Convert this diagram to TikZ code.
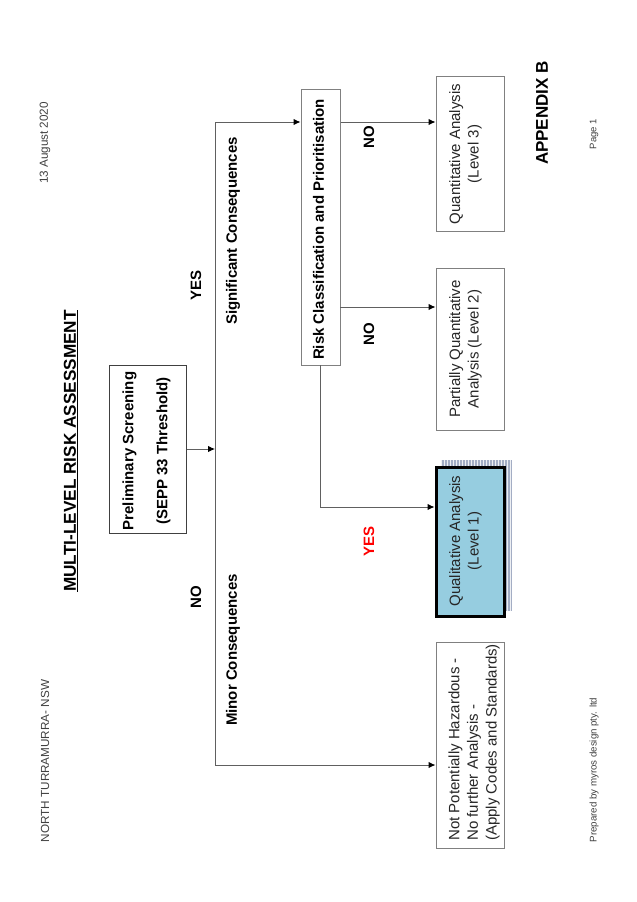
\documentclass[tikz,border=0pt]{standalone}
\usepackage{fontspec}
\setmainfont{Liberation Sans}
\usetikzlibrary{arrows.meta,positioning}
\definecolor{linegrey}{HTML}{606060}
\definecolor{boxgrey}{HTML}{808080}
\definecolor{levelblue}{HTML}{96CDE0}
\definecolor{hatchblue}{HTML}{A3ADC4}
\tikzset{
  flowbox/.style={draw=boxgrey,fill=white,line width=1pt,rotate=90,inner sep=0pt},
  boxtext/.style={rotate=90,align=center,inner sep=0pt,text=black!85,font=\fontsize{15}{18.7}\selectfont},
  flowline/.style={draw=linegrey,line width=1pt,-{Latex[black,length=7pt,width=6.5pt]}},
  plainline/.style={draw=linegrey,line width=1pt},
  headtext/.style={rotate=90,font=\fontsize{15}{18}\bfseries\selectfont},
  pagetext/.style={rotate=90,text=black!75,font=\fontsize{11.7}{14}\selectfont}
}

\begin{document}
\begin{tikzpicture}[x=1pt,y=-1pt,>=Latex]
    \useasboundingbox (0,0) rectangle (637,902);

    % page furniture
    \node[pagetext] (site) at (45,761) {NORTH TURRAMURRA- NSW};
    \node[pagetext] (date) at (45,143) {13 August 2020};
    \node[pagetext,font=\fontsize{9.7}{12}\selectfont] (prepared) at (594,770) {Prepared by myros design pty. ltd};
    \node[pagetext,font=\fontsize{9.5}{12}\selectfont] (pageno) at (594,134) {Page 1};
    \node[headtext,font=\fontsize{17.2}{20}\bfseries\selectfont] (title) at (71,451) {\underline{MULTI-LEVEL RISK ASSESSMENT}};
    \node[headtext,font=\fontsize{17}{20}\bfseries\selectfont] (appendix) at (542,113) {APPENDIX B};

    % boxes
    \fill[hatchblue] (441,460) rectangle (512,611);
    \draw[white!80!hatchblue,line width=0.2pt,xstep=3,ystep=3] (441,460) grid (512,611);
    \node[flowbox,draw=black!75,minimum width=168pt,minimum height=77pt] (prelim) at (147.5,449) {};
    \node[flowbox,minimum width=276pt,minimum height=39pt] (risk) at (320.5,227) {};
    \node[flowbox,minimum width=155pt,minimum height=68pt] (level3) at (470,153.5) {};
    \node[flowbox,minimum width=162pt,minimum height=68pt] (level2) at (470,349) {};
    \node[flowbox,draw=black,fill=levelblue,line width=3pt,minimum width=149pt,minimum height=68pt] (level1) at (470,541.5) {};
    \node[flowbox,minimum width=206pt,minimum height=68pt] (nothaz) at (470,745) {};

    % box texts
    \node[boxtext,text=black,font=\fontsize{15}{34}\bfseries\selectfont] (prelimtext) at (146.5,451) {Preliminary Screening\\(SEPP 33 Threshold)};
    \node[boxtext,text=black,font=\fontsize{15}{18}\bfseries\selectfont] (risktext) at (318.5,229.5) {Risk Classification and Prioritisation};
    \node[boxtext] (level3text) at (465.5,154) {Quantitative Analysis\\(Level 3)};
    \node[boxtext] (level2text) at (465.5,349) {Partially Quantitative\\Analysis (Level 2)};
    \node[boxtext] (level1text) at (465.5,541) {Qualitative Analysis\\(Level 1)};
    \node[boxtext,align=left,anchor=south west] (nothaztext) at (500,841) {Not Potentially Hazardous -\\No further Analysis -\\(Apply Codes and Standards)};

    % connectors
    \coordinate (trunk) at (215,449);
    \coordinate (trunktop) at (215,122);
    \coordinate (trunkbot) at (215,765);
    \coordinate (riskmid) at (340,307);
    \coordinate (riskbot) at (320,365);
    \coordinate (riskturn) at (320,507);
    \draw[flowline] (prelim.south |- trunk) -- (trunk);
    \draw[plainline] (trunktop) -- (trunkbot);
    \draw[flowline] (trunktop) -- (trunktop -| risk.north);
    \draw[flowline] (trunkbot) -- (trunkbot -| nothaz.north);
    \draw[flowline] (risk.south |- trunktop) -- (trunktop -| level3.north);
    \draw[flowline] (riskmid) -- (riskmid -| level2.north);
    \draw[flowline] (riskbot) -- (riskturn) -- (riskturn -| level1.north);

    % labels
    \node[headtext] (nolabel) at (196,597) {NO};
    \node[headtext] (yeslabel) at (196,285) {YES};
    \node[headtext] (minor) at (233,650) {Minor Consequences};
    \node[headtext] (signif) at (233,231) {Significant Consequences};
    \node[headtext] (nothree) at (369,137) {NO};
    \node[headtext] (notwo) at (369,334) {NO};
    \node[headtext,text=red] (yesone) at (369,541) {YES};
\end{tikzpicture}
\end{document}
